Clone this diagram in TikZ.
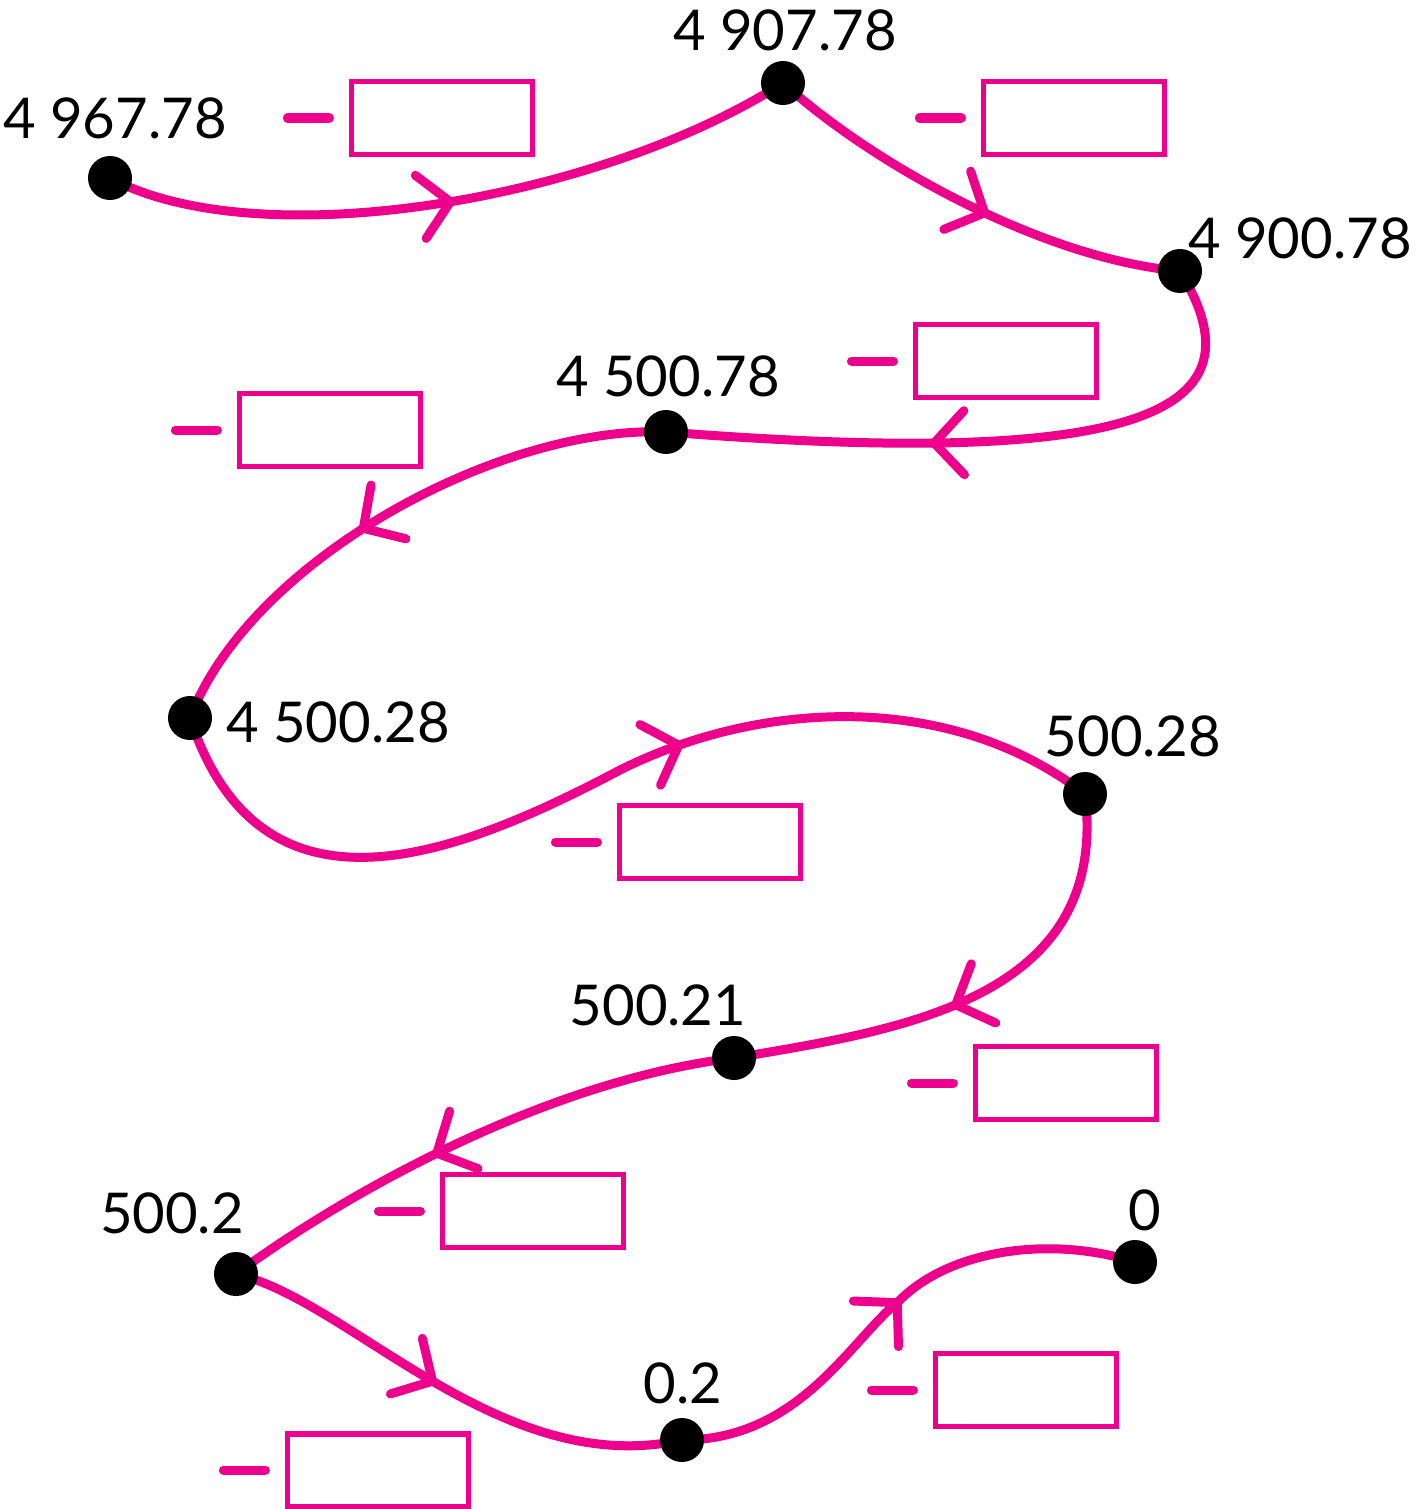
\documentclass[tikz,border=0pt]{standalone}
\usepackage{fontspec}
\setmainfont{Lato}
\usepackage{tikz}
\usetikzlibrary{arrows.meta,decorations.markings}

\definecolor{magline}{RGB}{236,0,140}

\tikzset{
  route/.style={magline,line width=0.09cm,line cap=round},
  flow/.style={decoration={markings,
      mark=at position #1 with {\arrow[magline,line width=0.09cm]{Straight Barb[length=0.3cm,width=0.64cm,round]}}},
    postaction=decorate},
  blank/.style={draw=magline,line width=0.05cm,minimum width=1.8cm,minimum height=0.72cm,inner sep=0pt},
  minus/.style={magline,line width=0.09cm,line cap=round},
  lbl/.style={font=\fontsize{16}{18}\selectfont,inner sep=1pt}
}

% empty answer box with a minus sign in front
\newcommand\ansbox[3]{%
  \node[blank] (#1) at (#2,#3) {};
  \draw[minus] ([xshift=-0.62cm]#1.west) -- ([xshift=-0.2cm]#1.west);
}

\begin{document}
\begin{tikzpicture}[x=0.01cm,y=-0.01cm]
\useasboundingbox (0,0) rectangle (1428,1509);

% points on the route
\coordinate (a) at (110,178);
\coordinate (b) at (783,83);
\coordinate (c) at (1180,271);
\coordinate (d) at (666,432);
\coordinate (e) at (190,718);
\coordinate (f) at (1085,794);
\coordinate (g) at (734,1058);
\coordinate (h) at (236,1274);
\coordinate (i) at (682,1440);
\coordinate (j) at (1135,1262);

% the route
\draw[route,flow=0.5] (a) .. controls (260,258) and (600,200) .. (b);
\draw[route,flow=0.55] (b) .. controls (880,170) and (1050,260) .. (c);
\draw[route,flow=0.6] (c) .. controls (1265,410) and (1150,470) .. (d);
\draw[route,flow=0.56] (d) .. controls (500,425) and (250,560) .. (e);
\draw[route,flow=0.58] (e) .. controls (260,930) and (450,860) .. (620,770)
  .. controls (760,700) and (950,690) .. (f);
\draw[route,flow=0.55] (f) .. controls (1110,1000) and (900,1030) .. (g);
\draw[route,flow=0.58] (g) .. controls (550,1080) and (350,1190) .. (h);
\draw[route,flow=0.47] (h) .. controls (350,1300) and (500,1480) .. (i);
\draw[route,flow=0.52] (i) .. controls (800,1440) and (850,1340) .. (900,1300)
  .. controls (950,1250) and (1050,1235) .. (j);

% dots
\foreach \p in {a,b,c,d,e,f,g,h,i,j}
  \fill (\p) circle (0.22cm);

% values
\node[lbl] (la) at (115,118) {4 967.78};
\node[lbl] (lb) at (785,30) {4 907.78};
\node[lbl] (lc) at (1300,238) {4 900.78};
\node[lbl] (ld) at (668,376) {4 500.78};
\node[lbl] (le) at (338,722) {4 500.28};
\node[lbl] (lf) at (1133,736) {500.28};
\node[lbl] (lg) at (658,1005) {500.21};
\node[lbl] (lh) at (172,1213) {500.2};
\node[lbl] (li) at (683,1383) {0.2};
\node[lbl] (lj) at (1145,1210) {0};

% boxes
\ansbox{b1}{442}{118}
\ansbox{b2}{1074}{118}
\ansbox{b3}{1006}{361}
\ansbox{b4}{330}{430}
\ansbox{b5}{710}{842}
\ansbox{b6}{1066}{1083}
\ansbox{b7}{533}{1211}
\ansbox{b8}{1026}{1390}
\ansbox{b9}{378}{1470}
\end{tikzpicture}
\end{document}
